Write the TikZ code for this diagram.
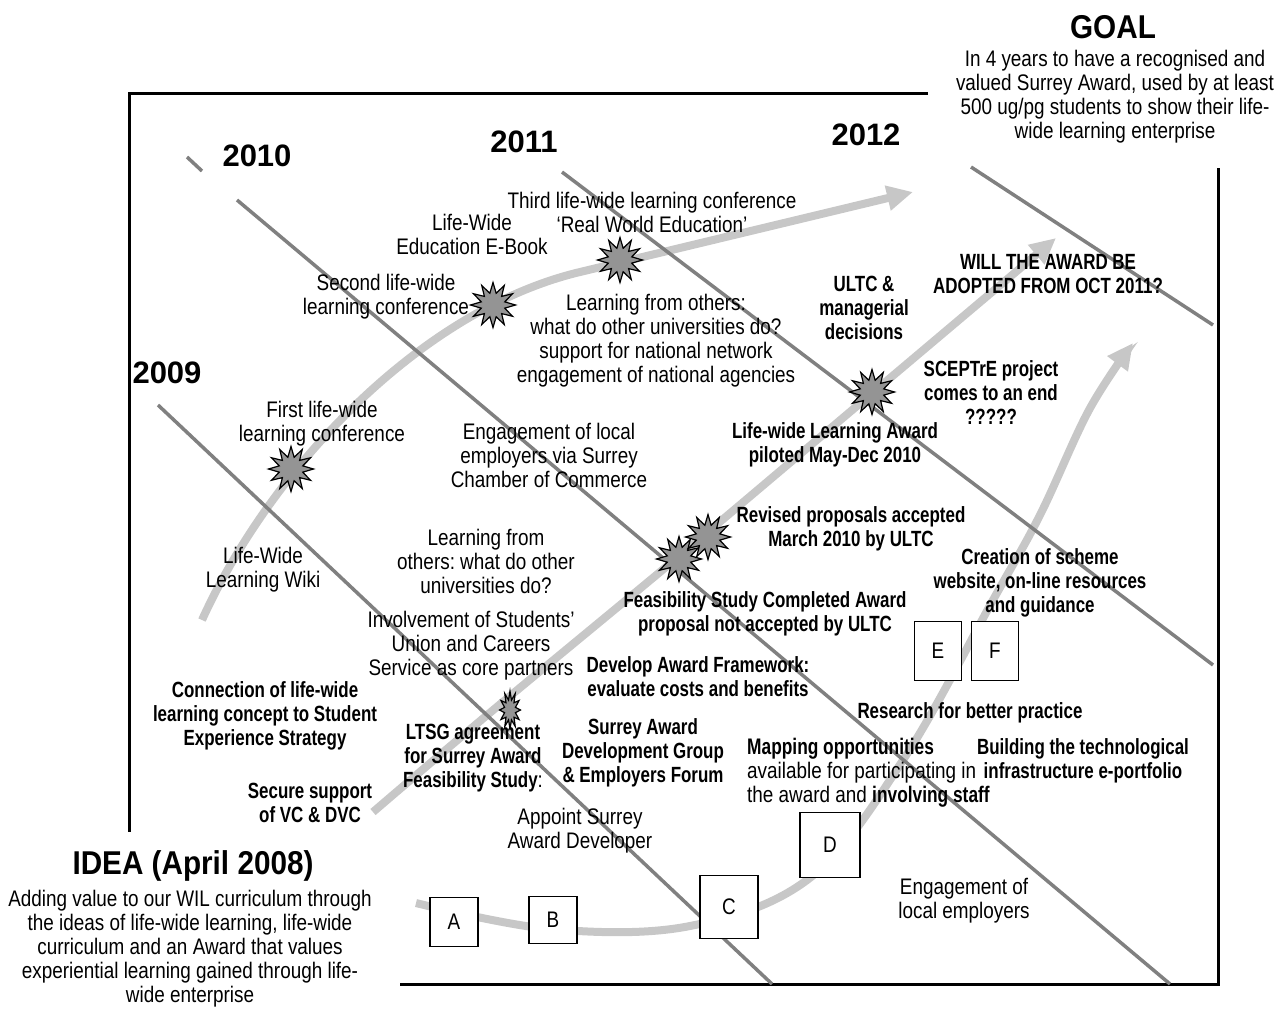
\documentclass[tikz,border=0pt]{standalone}
\usepackage{fontspec}
\setmainfont{Liberation Sans}
\newfontfamily\nrw{Liberation Sans}[FakeStretch=0.84]
\newfontfamily\nrwb{Liberation Sans}[FakeStretch=0.77]
\newfontfamily\hdw{Liberation Sans}[FakeStretch=0.9]
\usetikzlibrary{shapes.geometric,arrows.meta}
\frenchspacing

\tikzset{
  txt/.style={align=center,inner sep=0pt,font=\nrw\fontsize{22.5}{24}\selectfont},
  btxt/.style={align=center,inner sep=0pt,font=\nrwb\bfseries\fontsize{22}{24}\selectfont},
  year/.style={inner sep=0pt,font=\bfseries\fontsize{31}{32}\selectfont},
  head/.style={inner sep=0pt,font=\hdw\bfseries\fontsize{33}{36}\selectfont},
  yearline/.style={draw=black!50,line width=3.5pt},
  track/.style={draw=black!22,line width=8pt,-{Triangle[length=26pt,width=24pt]}},
  burst/.style={star,star points=12,star point ratio=1.85,draw=black,line width=1.2pt,
    fill=black!42,inner sep=0pt,minimum size=45pt},
  letterbox/.style={draw=black,line width=1.5pt,fill=white,inner sep=0pt,
    font=\nrw\fontsize{22.5}{24}\selectfont}
}

\begin{document}
\begin{tikzpicture}[x=1pt,y=-1pt]
  \useasboundingbox (0,0) rectangle (1284,1018);

  %% Frame
  \draw[line width=3pt] (928,93) -- (129,93) -- (129,832);
  \draw[line width=3pt] (400,984) -- (1218,984) -- (1218,168);

  %% Grey tracks
  \draw[track] (202,620) .. controls (270,470) and (420,310) .. (580,272) -- (913,192);
  \draw[track] plot[smooth,tension=0.5] coordinates {(373,812) (486,716) (678,557) (870,395) (1056,238)};
  \draw[track] plot[smooth,tension=0.6] coordinates {(416,903) (550,929) (690,926) (811,877)
    (905,757) (993,600) (1040,515) (1089,410) (1133,343)};

  %% Year boundaries
  \draw[yearline] (187,157) -- (202,171);
  \draw[yearline] (237,200) -- (1170,984);
  \draw[yearline] (158,405) -- (772,984);
  \draw[yearline] (562,172) -- (1213,665);
  \draw[yearline] (971,167) -- (1213,325);

  %% Milestones
  \foreach \name/\x/\y in {conf1/291/469,conf2/493/305,conf3/620/260,ultc/872/392,feas/679/559,revised/708/537}
    \node[burst] (\name) at (\x,\y) {};
  \node[burst,minimum size=38pt,xscale=0.55,transform shape] (ltsgstar) at (510,710) {};

  %% Letter boxes
  \foreach \name/\x/\y/\w/\h in {A/454/922/48/49,B/553/920/48/47,C/729/907/58/63,
    D/830/845/60/65,E/938/651/47/59,F/995/651/47/59}
    \node[letterbox,minimum width=\w pt,minimum height=\h pt] (box\name) at (\x,\y) {\name};

  %% Years
  \node[year] (y2010) at (257,156) {2010};
  \node[year] (y2011) at (524,142) {2011};
  \node[year] (y2012) at (866,135) {2012};
  \node[year] (y2009) at (167,373) {2009};

  %% Goal and idea
  \node[head] (goal) at (1113,27) {GOAL};
  \node[txt] (goaltext) at (1115,97) {In 4 years to have a recognised and\\valued Surrey Award, used by at least\\500 ug/pg students to show their life-\\wide learning enterprise};
  \node[head] (idea) at (193,866) {IDEA (April 2008)};
  \node[txt] (ideatext) at (190,949) {Adding value to our WIL curriculum through\\the ideas of life-wide learning, life-wide\\curriculum and an Award that values\\experiential learning gained through life-\\wide enterprise};

  %% Labels
  \node[txt] (thirdconf) at (652,212) {Third life-wide learning conference\\‘Real World Education’};
  \node[txt] (ebook) at (472,234) {Life-Wide\\Education E-Book};
  \node[txt] (secondconf) at (386,297) {Second life-wide\\learning conference};
  \node[txt] (others) at (656,341) {Learning from others:\\what do other universities do?\\support for national network\\engagement of national agencies};
  \node[btxt] (ultcdec) at (864,308) {ULTC \&\\managerial\\decisions};
  \node[btxt] (adopt) at (1048,274) {WILL THE AWARD BE\\ADOPTED FROM OCT 2011?};
  \node[btxt] (sceptre) at (991,393) {SCEPTrE project\\comes to an end\\?????};
  \node[btxt] (pilot) at (835,445) {Life-wide Learning Award\\piloted May-Dec 2010};
  \node[txt] (firstconf) at (322,424) {First life-wide\\learning conference};
  \node[txt] (chamber) at (549,455) {Engagement of local\\employers via Surrey\\Chamber of Commerce};
  \node[txt] (others2) at (486,561) {Learning from\\others: what do other\\universities do?};
  \node[txt] (wiki) at (263,570) {Life-Wide\\Learning Wiki};
  \node[btxt] (revisedtext) at (851,529) {Revised proposals accepted\\March 2010 by ULTC};
  \node[btxt] (website) at (1040,583) {Creation of scheme\\website, on-line resources\\and guidance};
  \node[btxt] (feasstudy) at (765,614) {Feasibility Study Completed Award\\proposal not accepted by ULTC};
  \node[txt] (union) at (471,646) {Involvement of Students’\\Union and Careers\\Service as core partners};
  \node[btxt] (framework) at (698,677) {Develop Award Framework:\\evaluate costs and benefits};
  \node[btxt] (connection) at (265,716) {Connection of life-wide\\learning concept to Student\\Experience Strategy};
  \node[btxt] (research) at (970,713) {Research for better practice};
  \node[btxt] (ltsg) at (473,758) {LTSG agreement\\for Surrey Award\\Feasibility Study{\nrw\mdseries:}};
  \node[btxt] (devgroup) at (643,753) {Surrey Award\\Development Group\\\& Employers Forum};
  \node[txt,align=left,anchor=west] (mapping) at (747,773) {{\nrwb\bfseries Mapping opportunities}\\available for participating in\\the award and {\nrwb\bfseries involving staff}};
  \node[btxt] (infra) at (1083,761) {Building the technological\\infrastructure e-portfolio};
  \node[btxt] (vcdvc) at (310,803) {Secure support\\of VC \& DVC};
  \node[txt] (appoint) at (580,831) {Appoint Surrey\\Award Developer};
  \node[txt] (employers) at (964,901) {Engagement of\\local employers};
\end{tikzpicture}
\end{document}
